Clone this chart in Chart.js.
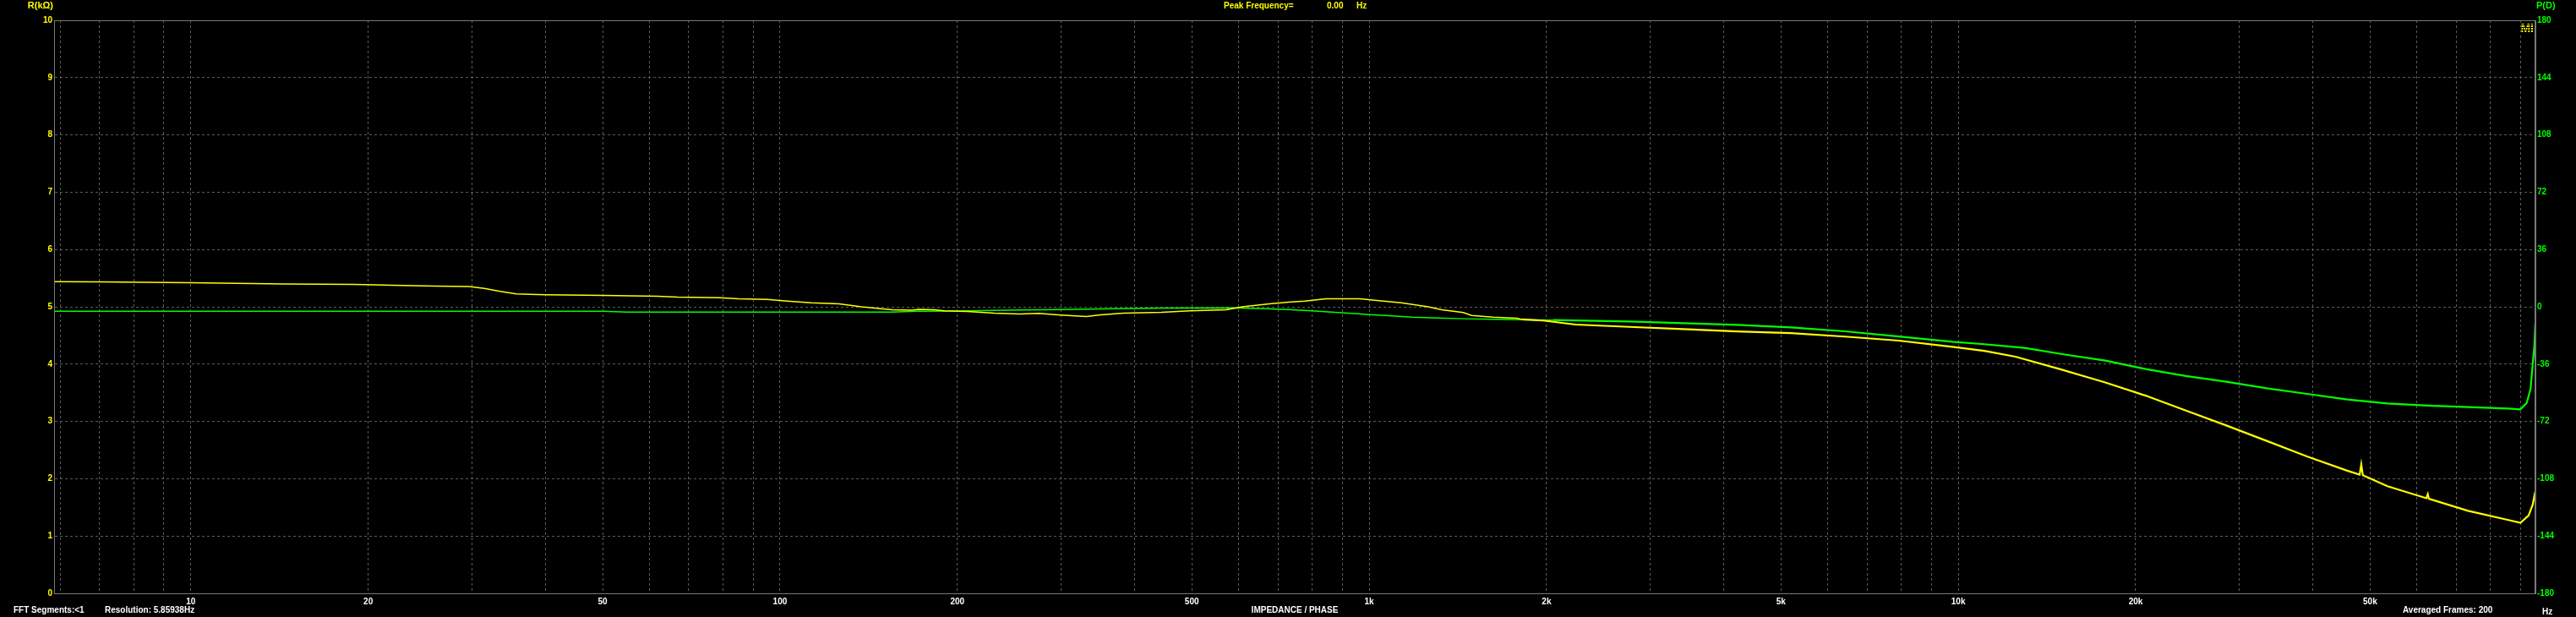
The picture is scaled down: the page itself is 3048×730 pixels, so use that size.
<!DOCTYPE html>
<html>
<head>
<meta charset="utf-8">
<script src="https://cdn.jsdelivr.net/npm/chart.js@4.4.1/dist/chart.umd.min.js"></script>
<style>
  html, body { margin: 0; padding: 0; background: #000; overflow: hidden; }
  #wrap { width: 3048px; height: 730px; position: relative; background: #000; }
  canvas { display: block; }
</style>
</head>
<body>
<div id="wrap"><canvas id="c" width="3048" height="730"></canvas></div>
<script>
// ---- Impedance magnitude (kΩ) vs frequency (Hz) ----
const impFreq = [5.86, 7, 10, 14.4, 19, 22, 26, 29.7, 31.5, 33.5, 35.7, 40, 50, 62, 67, 79, 85, 95, 103, 113, 126, 137.5,
  155, 167.6, 172, 183, 190, 208, 231, 255, 275, 296, 331, 350, 383, 444, 496, 572, 609, 677, 729, 777, 845, 965,
  1031, 1134, 1260, 1328, 1445, 1492, 1623, 1784, 1814, 1974, 2240, 2765, 3413, 4213, 5200, 6420, 7925, 9780,
  11070, 12500, 14900, 17760, 20790, 24340, 28500, 33370, 39060, 45710, 48000, 48300, 48600, 53500, 62300, 62640,
  62900, 73320, 85840, 89980, 92900, 94400, 95300];
const impKohm = [5.44, 5.435, 5.42, 5.40, 5.39, 5.375, 5.36, 5.355, 5.32, 5.27, 5.225, 5.21, 5.20, 5.185, 5.17, 5.16, 5.14, 5.13, 5.10, 5.07, 5.05, 5.00,
  4.95, 4.94, 4.955, 4.95, 4.93, 4.92, 4.89, 4.875, 4.885, 4.86, 4.83, 4.86, 4.89, 4.905, 4.93, 4.95, 5.00, 5.05, 5.08, 5.10, 5.14, 5.14,
  5.11, 5.07, 5.00, 4.95, 4.90, 4.85, 4.82, 4.80, 4.78, 4.76, 4.69, 4.65, 4.61, 4.57, 4.54, 4.48, 4.41, 4.30,
  4.23, 4.13, 3.91, 3.68, 3.45, 3.19, 2.93, 2.66, 2.39, 2.14, 2.07, 2.25, 2.06, 1.87, 1.66, 1.73,
  1.65, 1.44, 1.28, 1.23, 1.36, 1.55, 1.77];

// ---- Phase (degrees) vs frequency (Hz) ----
const phaseFreq = [5.86, 50, 55, 155, 170, 200, 230, 255, 300, 331, 392, 450, 590, 669, 729, 810, 863, 909, 959, 1000,
  1065, 1183, 1306, 1445, 1710, 2050, 2765, 3413, 4213, 5200, 6420, 7925, 9780, 11070, 12960, 15170, 17760,
  20790, 24340, 28500, 33370, 39060, 45710, 53500, 62640, 73320, 85840, 89980, 92200, 93600, 94400, 95000, 95350];
const phaseDeg = [-2.8, -2.8, -3.3, -3.3, -2.83, -2.6, -2.3, -2.0, -1.77, -1.5, -1.0, -0.75, -0.71, -1.2, -1.77, -2.6, -3.3, -3.9, -4.4, -4.9,
  -5.5, -6.5, -7.0, -7.5, -8.0, -8.3, -9.2, -10.3, -11.3, -12.9, -15.4, -18.6, -22.0, -23.5, -25.8, -30.0, -33.8,
  -39.1, -43.5, -47.1, -51.2, -54.7, -58.2, -60.7, -62.1, -63.0, -63.9, -64.4, -60.4, -51.5, -35.6, -25.0, -10.8];

// ---- Axis ticks ----
const xGridFreqs = [6, 7, 8, 9, 10, 20, 30, 40, 50, 60, 70, 80, 90, 100, 200, 300, 400, 500, 600, 700, 800, 900,
  1000, 2000, 3000, 4000, 5000, 6000, 7000, 8000, 9000, 10000, 20000, 30000, 40000, 50000, 60000, 70000, 80000, 90000];
const xLabelValues = [10, 20, 50, 100, 200, 500, 1000, 2000, 5000, 10000, 20000, 50000];
const xLabelTexts = ['10', '20', '50', '100', '200', '500', '1k', '2k', '5k', '10k', '20k', '50k'];
const rRange = [0, 10];
const pRange = [-180, 180];

const FONT = '"Liberation Sans", Arial, sans-serif';
const GRID = '#5c5c5c';
const BORDER = '#7a7a7a';
const YEL = '#ffff00';
const GRN = '#00ff00';

const textPlugin = {
  id: 'texts',
  beforeDraw(chart) {
    const c = chart.ctx;
    c.save();
    c.fillStyle = '#000';
    c.fillRect(0, 0, chart.width, chart.height);
    c.restore();
  },
  afterDraw(chart) {
    const c = chart.ctx;
    const a = chart.chartArea;
    c.save();
    // frame
    c.strokeStyle = BORDER;
    c.lineWidth = 1;
    c.strokeRect(a.left + 0.5, a.top + 0.5, a.right - a.left - 1, a.bottom - a.top);
    c.textBaseline = 'middle';
    c.font = 'bold 11px ' + FONT;
    c.fillStyle = YEL;
    c.textAlign = 'right';
    c.fillText('R(kΩ)', a.left - 1, 7);
    c.fillStyle = GRN;
    c.textAlign = 'left';
    c.fillText('P(D)', a.right + 1, 7);
    // top
    c.font = 'bold 10px ' + FONT;
    c.fillStyle = YEL;
    c.fillText('Peak Frequency=', 1448, 7);
    c.fillText('0.00', 1570, 7);
    c.fillText('Hz', 1605, 7);
    // bottom
    c.fillStyle = '#ffffff';
    c.fillText('FFT Segments:<1', 16, 722);
    c.fillText('Resolution: 5.85938Hz', 124, 722);
    c.fillText('Averaged Frames: 200', 2843, 722);
    c.fillText('Hz', 3008, 724);
    c.textAlign = 'center';
    c.fillText('IMPEDANCE / PHASE', (a.left + a.right) / 2, 722);
    // logo
    c.textAlign = 'right';
    c.font = 'bold 14px ' + FONT;
    c.fillStyle = YEL;
    c.fillText('MI', a.right - 2, 34);
    c.fillStyle = '#000';
    for (let yy = 29; yy < 40; yy += 3) c.fillRect(a.right - 22, yy, 21, 1);
    c.restore();
  }
};

const mk = (fs, vs) => fs.map((f, i) => ({ x: f, y: vs[i] }));

new Chart(document.getElementById('c'), {
  type: 'line',
  data: {
    datasets: [
      {
        label: 'R', data: mk(impFreq, impKohm), yAxisID: 'yR', borderColor: YEL, borderWidth: 1.5,
        pointRadius: 0, tension: 0,
        segment: { borderWidth: ctx => (ctx.p0.parsed.x > 1800 ? 2.2 : 1.5) }
      },
      {
        label: 'P', data: mk(phaseFreq, phaseDeg), yAxisID: 'yP', borderColor: GRN, borderWidth: 1.5,
        pointRadius: 0, tension: 0,
        segment: { borderWidth: ctx => (ctx.p0.parsed.x > 1800 ? 2.2 : 1.5) }
      }
    ]
  },
  options: {
    responsive: false, animation: false, devicePixelRatio: 1,
    layout: { padding: { top: 24, left: 0, right: 0, bottom: 0 } },
    plugins: { legend: { display: false }, tooltip: { enabled: false } },
    scales: {
      x: {
        type: 'logarithmic', position: 'bottom', min: 5.86, max: 95400,
        afterBuildTicks: s => { s.ticks = xGridFreqs.map(v => ({ value: v })); },
        afterFit: s => { s.height = 28; },
        grid: { color: GRID, lineWidth: 1, drawTicks: false },
        border: { display: true, color: BORDER, width: 1, dash: [3, 3] },
        ticks: {
          autoSkip: false, maxRotation: 0, padding: 4, color: '#ffffff',
          font: { family: FONT, size: 10, weight: 'bold' },
          callback: v => { const i = xLabelValues.indexOf(v); return i >= 0 ? xLabelTexts[i] : ''; }
        }
      },
      yR: {
        type: 'linear', position: 'left', min: rRange[0], max: rRange[1],
        afterFit: s => { s.width = 64; },
        grid: { color: GRID, lineWidth: 1, drawTicks: false },
        border: { display: true, color: BORDER, width: 1, dash: [3, 3] },
        ticks: { stepSize: 1, padding: 2, color: YEL, font: { family: FONT, size: 10, weight: 'bold' } }
      },
      yP: {
        type: 'linear', position: 'right', min: pRange[0], max: pRange[1],
        afterFit: s => { s.width = 48; },
        grid: { drawOnChartArea: false, drawTicks: false },
        border: { display: true, color: BORDER, width: 1 },
        ticks: { stepSize: 36, padding: 2, color: GRN, font: { family: FONT, size: 10, weight: 'bold' } }
      }
    }
  },
  plugins: [textPlugin]
});
</script>
</body>
</html>
